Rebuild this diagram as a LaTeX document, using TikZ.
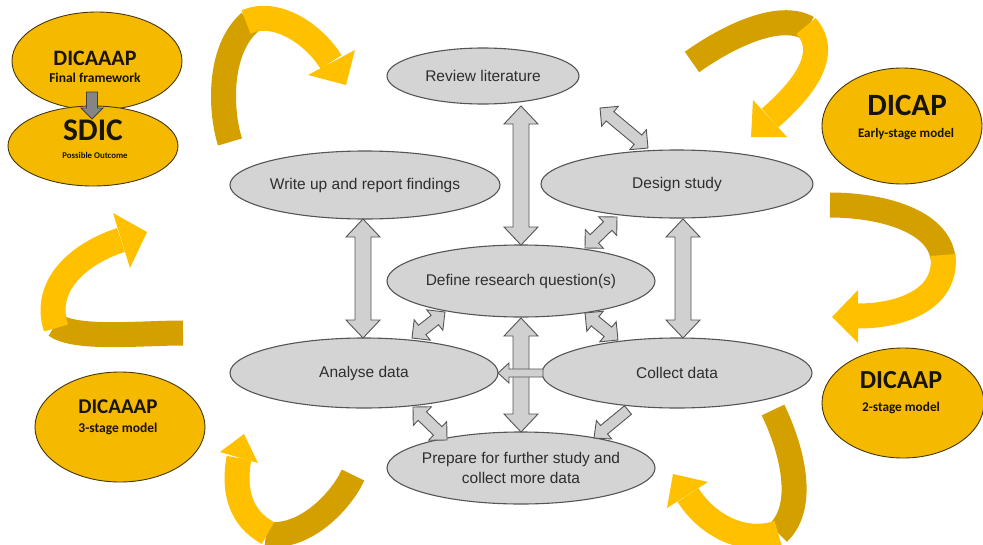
\documentclass[tikz,border=0pt]{standalone}
\usepackage{fontspec}
\setmainfont{Liberation Sans}
\newfontfamily\calib{Carlito}
\usetikzlibrary{shapes.geometric,calc}

\definecolor{procfill}{RGB}{212,212,212}
\definecolor{procline}{RGB}{85,85,85}
\definecolor{arrfill}{RGB}{208,208,208}
\definecolor{gold}{RGB}{245,185,0}
\definecolor{goldline}{RGB}{70,55,10}
\definecolor{ribbondark}{RGB}{212,160,0}
\definecolor{ribbonlight}{RGB}{255,192,0}
\definecolor{txtdark}{RGB}{25,20,10}

\tikzset{
  proc/.style={ellipse, draw=procline, fill=procfill, line width=1.1pt, inner sep=0pt,
    font=\fontsize{15.5}{20}\selectfont, text=black!82, align=center},
  proctxt/.style={inner sep=0pt, font=\fontsize{15.5}{20}\selectfont, text=black!82, align=center},
  stage/.style={ellipse, draw=goldline, fill=gold, line width=0.9pt, inner sep=0pt},
  stagetxt/.style={inner sep=0pt, anchor=base, text=txtdark},
  ribback/.style={draw=ribbondark, line width=25pt},
  ribfront/.style={draw=ribbonlight, line width=25pt},
  ribhead/.style={fill=ribbonlight},
  blk/.style={draw=procline, fill=arrfill, line width=0.9pt, line join=miter},
  grayblk/.style={draw=black!75, fill=black!48, line width=0.8pt, line join=miter},
}

% block double arrow: #1,#2 ends; #3 shaft half width; #4 head half width; #5 head length
\newcommand\dblarrow[5]{%
  \coordinate (pa) at ($(#1)!#5!(#2)$);
  \coordinate (pb) at ($(#2)!#5!(#1)$);
  \path[blk] (#1) -- ($(pa)!#4!-90:(#2)$) -- ($(pa)!#3!-90:(#2)$)
    -- ($(pb)!#3!90:(#1)$) -- ($(pb)!#4!90:(#1)$) -- (#2)
    -- ($(pb)!#4!-90:(#1)$) -- ($(pb)!#3!-90:(#1)$)
    -- ($(pa)!#3!90:(#2)$) -- ($(pa)!#4!90:(#2)$) -- cycle;}
% block single arrow from #2 to #3
\newcommand\sglarrow[6][blk]{%
  \coordinate (pb) at ($(#3)!#6!(#2)$);
  \path[#1] ($(#2)!#4!90:(#3)$) -- ($(pb)!#4!-90:(#2)$) -- ($(pb)!#5!-90:(#2)$)
    -- (#3) -- ($(pb)!#5!90:(#2)$) -- ($(pb)!#4!90:(#2)$)
    -- ($(#2)!#4!-90:(#3)$) -- cycle;}

\begin{document}
\begin{tikzpicture}[x=1pt,y=-1pt]
\useasboundingbox (0,0) rectangle (983,544);

% ---- curved ribbon arrows ----
% top left
\draw[ribback] (230,142) .. controls (220,110) and (218,50) .. (250,22);
\draw[ribfront] (246,22) .. controls (278,8) and (316,37) .. (331,62);
\fill[ribhead] (355,50) -- (346,85) -- (308,75) -- cycle;
% top right
\draw[ribback] (692,62) .. controls (730,35) and (780,12) .. (808,28);
\draw[ribfront] (806,26) .. controls (832,55) and (800,92) .. (770,118);
\fill[ribhead] (753,100) -- (751,137) -- (787,137) -- cycle;
% right middle
\draw[ribback] (830,205) .. controls (880,205) and (938,220) .. (943,258);
\draw[ribfront] (943,255) .. controls (948,300) and (900,316) .. (858,316);
\fill[ribhead] (858,290) -- (832,317) -- (858,343) -- cycle;
% bottom right
\draw[ribback] (773,410) .. controls (790,445) and (808,505) .. (778,533);
\draw[ribfront] (778,533) .. controls (740,545) and (705,522) .. (688,495);
\fill[ribhead] (708,482) -- (673,474) -- (667,508) -- cycle;
% bottom left
\draw[ribback] (353,475) .. controls (342,500) and (305,540) .. (266,534);
\draw[ribfront] (268,533) .. controls (240,518) and (233,490) .. (239,458);
\fill[ribhead] (220,452) -- (244,434) -- (258,463) -- cycle;
% left middle
\draw[ribback] (183,333) .. controls (140,333) and (75,340) .. (55,325);
\draw[ribfront] (56,328) .. controls (42,285) and (80,253) .. (121,240);
\fill[ribhead] (113,213) -- (147,232) -- (130,268) -- cycle;

% ---- model ellipses ----
\node[stage, minimum width=170pt, minimum height=98pt] (fin) at (97,61) {};
\node[stage, minimum width=170pt, minimum height=80pt] (sdic) at (93,146) {};
\node[stage, minimum width=160pt, minimum height=116pt] (early) at (902,126) {};
\node[stage, minimum width=162pt, minimum height=110pt] (two) at (903,403) {};
\node[stage, minimum width=170pt, minimum height=110pt] (three) at (120,427) {};

\coordinate (g1) at (92,92);
\coordinate (g2) at (92,119);
\sglarrow[grayblk]{g1}{g2}{5.5pt}{11pt}{11pt}

\node[stagetxt, font=\calib\bfseries\fontsize{22}{26}\selectfont] (finA) at (95,65) {DICAAAP};
\node[stagetxt, font=\calib\bfseries\fontsize{13.5}{16}\selectfont] (finB) at (95,82) {Final framework};
\node[stagetxt, font=\calib\bfseries\fontsize{31.5}{36}\selectfont] (sdicA) at (93,140) {SDIC};
\node[stagetxt, font=\calib\bfseries\fontsize{8.8}{10}\selectfont] (sdicB) at (95,158) {Possible Outcome};
\node[stagetxt, font=\calib\bfseries\fontsize{31}{36}\selectfont] (earlyA) at (907,115) {DICAP};
\node[stagetxt, font=\calib\bfseries\fontsize{13}{15}\selectfont] (earlyB) at (906,137) {Early-stage model};
\node[stagetxt, font=\calib\bfseries\fontsize{26}{31}\selectfont] (twoA) at (901,388) {DICAAP};
\node[stagetxt, font=\calib\bfseries\fontsize{13.3}{15}\selectfont] (twoB) at (901,411) {2-stage model};
\node[stagetxt, font=\calib\bfseries\fontsize{21}{25}\selectfont] (threeA) at (118,413) {DICAAAP};
\node[stagetxt, font=\calib\bfseries\fontsize{13.5}{15}\selectfont] (threeB) at (118,432) {3-stage model};

% ---- research process ----
\node[proc, minimum width=192pt, minimum height=56pt] (rev) at (483,76) {Review literature};
\node[proc, minimum width=272pt, minimum height=68pt] (design) at (677,184) {Design study};
\node[proc, minimum width=270pt, minimum height=68pt] (write) at (365,185) {Write up and report findings};
\node[proc, minimum width=268pt, minimum height=72pt] (define) at (521,281) {};
\node[proctxt] (defineT) at (define.center) {Define research question(s)};
\node[proc, minimum width=268pt, minimum height=70pt] (analyse) at (364,373) {Analyse data};
\node[proc, minimum width=270pt, minimum height=70pt] (collect) at (677,373) {Collect data};
\node[proc, minimum width=268pt, minimum height=72pt] (prepare) at (521,468) {};
\node[proctxt] (prepareT) at (prepare.center) {Prepare for further study and\\collect more data};

% arrow end points on the ellipse borders
\coordinate (revS) at (521,106);   \coordinate (defN) at (521,245);
\coordinate (wriS) at (363,219);   \coordinate (anaN) at (363,338);
\coordinate (desS) at (683,219);   \coordinate (colN) at (683,338);
\coordinate (defS) at (521,318);   \coordinate (preN) at (521,432);
\coordinate (revE) at (600,108);   \coordinate (desN) at (648,148);
\coordinate (defNE) at (585,248);  \coordinate (desSW) at (617,217);
\coordinate (defSW) at (445,312);  \coordinate (anaNE) at (412,338);
\coordinate (defSE) at (585,313);  \coordinate (colNW) at (618,340);
\coordinate (anaSE) at (413,407);  \coordinate (preNW) at (447,440);
\coordinate (colW) at (543,373);   \coordinate (anaE) at (498,373);
\coordinate (colSW) at (628,410);  \coordinate (preNE) at (594,438);

\dblarrow{revS}{defN}{8pt}{17pt}{18pt}
\dblarrow{wriS}{anaN}{8pt}{17pt}{18pt}
\dblarrow{desS}{colN}{8pt}{17pt}{18pt}
\dblarrow{defS}{preN}{8pt}{17pt}{18pt}
\dblarrow{revE}{desN}{6pt}{13pt}{13pt}
\dblarrow{defNE}{desSW}{6pt}{13pt}{13pt}
\dblarrow{defSW}{anaNE}{6pt}{13pt}{13pt}
\dblarrow{defSE}{colNW}{6pt}{13pt}{13pt}
\dblarrow{anaSE}{preNW}{6pt}{13pt}{13pt}
\sglarrow{colW}{anaE}{4pt}{10pt}{11pt}
\sglarrow{colSW}{preNE}{5.5pt}{12pt}{13pt}
\end{tikzpicture}
\end{document}
